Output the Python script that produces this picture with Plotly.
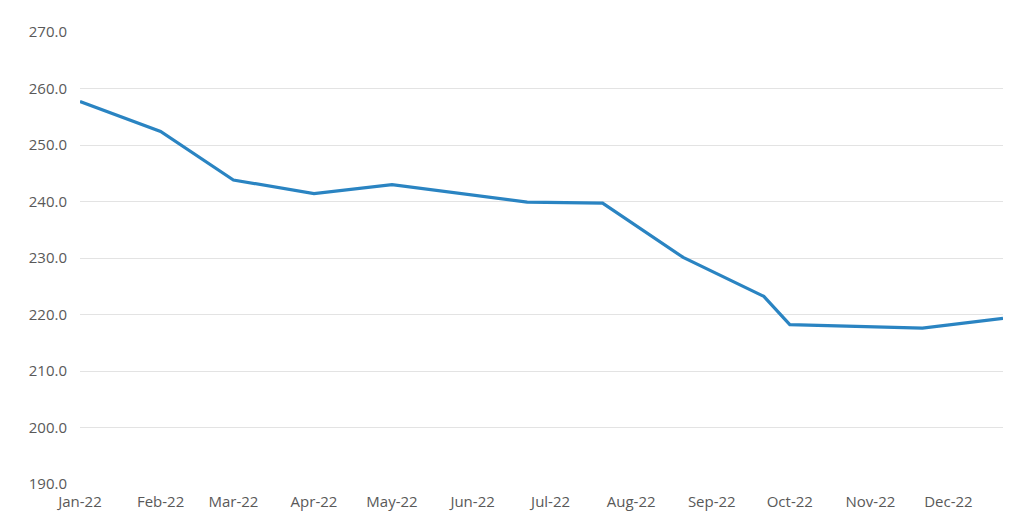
import plotly.graph_objects as go

dates = ["2022-01-01", "2022-02-01", "2022-03-01", "2022-04-01", "2022-05-01",
         "2022-06-22", "2022-07-21", "2022-08-21", "2022-09-21", "2022-10-01",
         "2022-11-21", "2022-12-22"]
values = [257.7, 252.4, 243.8, 241.4, 243.0, 239.9, 239.7, 230.1, 223.2, 218.2, 217.6, 219.3]

y_ticks = [190, 200, 210, 220, 230, 240, 250, 260, 270]
y_tick_labels = [f"{v:.1f}" for v in y_ticks]

fig = go.Figure()
fig.add_trace(go.Scatter(x=dates, y=values, mode="lines",
                         line=dict(color="#2a84c2", width=3.2), hoverinfo="x+y"))

font = dict(family="Open Sans, Lato, sans-serif", size=15, color="#595959")
fig.update_layout(
    width=1016, height=523,
    margin=dict(l=72, r=21, t=24, b=47, autoexpand=False),
    plot_bgcolor="white", paper_bgcolor="white",
    showlegend=False,
    font=font,
    xaxis=dict(type="date", range=["2022-01-01", "2022-12-22"],
               tick0="2022-01-01", dtick="M1", tickformat="%b-%y",
               showgrid=False, zeroline=False, showline=False,
               ticks="outside", ticklen=4, tickcolor="rgba(0,0,0,0)",
               tickfont=font),
    yaxis=dict(range=[190, 270], tickvals=y_ticks, ticktext=y_tick_labels,
               showgrid=True, gridcolor="#e3e3e3", gridwidth=1,
               zeroline=False, showline=False, ticklabelstandoff=12,
               tickfont=font),
)
fig.write_html("out.html")
